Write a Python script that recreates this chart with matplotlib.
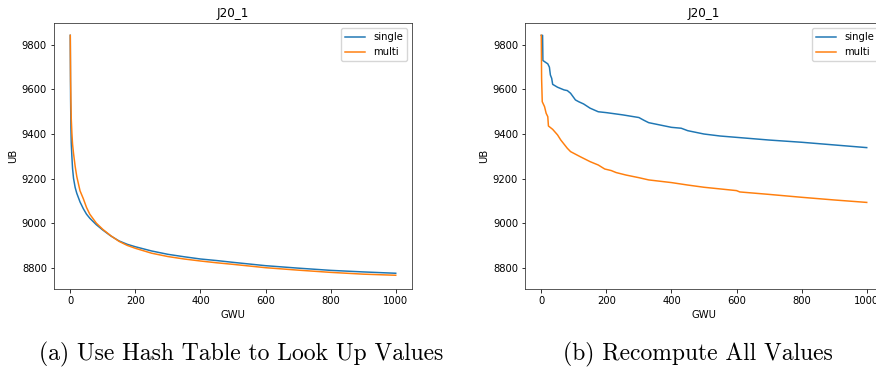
import matplotlib
matplotlib.use("Agg")
import matplotlib.pyplot as plt

# ---- data ----
title_text = "J20_1"
xlabel_text = "GWU"
ylabel_text = "UB"
caption_a = "(a) Use Hash Table to Look Up Values"
caption_b = "(b) Recompute All Values"
xticks = [0, 200, 400, 600, 800, 1000]
yticks = [8800, 9000, 9200, 9400, 9600, 9800]

# panel (a)
a_single_x = [0, 1, 2, 3, 5, 7, 10, 15, 20, 30, 40, 50, 60, 80, 100, 125, 150, 175, 200,
              250, 300, 350, 400, 450, 500, 600, 700, 800, 900, 1000]
a_single_y = [9843, 9560, 9430, 9360, 9298, 9245, 9201, 9160, 9134, 9095, 9065, 9040, 9022,
              8993, 8969, 8942, 8920, 8905, 8894, 8875, 8860, 8849, 8839, 8832, 8824, 8809,
              8798, 8788, 8781, 8775]
a_multi_x = [0, 1, 2, 3, 5, 7, 10, 15, 20, 30, 40, 50, 60, 80, 100, 125, 150, 175, 200,
             250, 300, 350, 400, 450, 500, 600, 700, 800, 900, 1000]
a_multi_y = [9843, 9640, 9540, 9470, 9403, 9355, 9313, 9255, 9209, 9145, 9110, 9070, 9040,
             9000, 8972, 8943, 8918, 8900, 8887, 8865, 8850, 8839, 8830, 8822, 8815, 8800,
             8789, 8779, 8771, 8766]

# panel (b)
b_single_x = [0, 4, 5, 10, 20, 25, 28, 32, 35, 50, 70, 80, 90, 105, 115, 130, 150, 175, 200,
              250, 300, 315, 330, 350, 400, 430, 450, 500, 550, 600, 700, 800, 900, 1000]
b_single_y = [9843, 9843, 9730, 9725, 9715, 9700, 9665, 9650, 9623, 9610, 9598, 9595, 9583,
              9553, 9545, 9535, 9516, 9500, 9496, 9486, 9474, 9462, 9451, 9445, 9430, 9426,
              9415, 9400, 9391, 9385, 9373, 9363, 9351, 9339]
b_multi_x = [0, 1, 3, 10, 15, 20, 22, 35, 50, 60, 80, 90, 120, 150, 175, 195, 215, 230,
             260, 300, 330, 400, 450, 500, 600, 610, 700, 800, 900, 1000]
b_multi_y = [9843, 9650, 9545, 9523, 9493, 9478, 9436, 9421, 9396, 9373, 9336, 9321, 9298,
             9276, 9261, 9243, 9236, 9227, 9216, 9204, 9194, 9182, 9171, 9161, 9146, 9140,
             9129, 9116, 9104, 9093]

s = 0.72
plt.rcParams.update({
    "font.size": 10 * s,
    "axes.linewidth": 0.8 * s,
    "xtick.major.size": 3.5 * s,
    "ytick.major.size": 3.5 * s,
    "xtick.major.width": 0.8 * s,
    "ytick.major.width": 0.8 * s,
    "xtick.major.pad": 3.5 * s,
    "ytick.major.pad": 3.5 * s,
    "lines.linewidth": 1.5 * s,
    "axes.edgecolor": "#333333",
})

W, H = 876, 367
fig = plt.figure(figsize=(W / 100, H / 100), dpi=100)

def add_panel(left_px, single_x, single_y, multi_x, multi_y):
    ax = fig.add_axes([left_px / W, 1 - 289.3 / H, 358 / W, 266 / H])
    ax.plot(single_x, single_y, color="#1f77b4", label="single")
    ax.plot(multi_x, multi_y, color="#ff7f0e", label="multi")
    ax.set_xlim(-50, 1050)
    ax.set_ylim(8703, 9897)
    ax.set_xticks(xticks)
    ax.set_yticks(yticks)
    ax.set_title(title_text, fontsize=12 * s, pad=6 * s)
    ax.set_xlabel(xlabel_text, labelpad=4 * s)
    ax.set_ylabel(ylabel_text, labelpad=4 * s)
    ax.legend(loc="upper right", fontsize=10 * s, borderaxespad=0.5,
              handlelength=2.0, framealpha=0.8)
    return ax

add_panel(54, a_single_x, a_single_y, a_multi_x, a_multi_y)
add_panel(525, b_single_x, b_single_y, b_multi_x, b_multi_y)

fig.text(241 / W, 1 - 354 / H, caption_a, ha="center", va="center",
         family=["cmr10", "DejaVu Serif"], fontsize=17)
fig.text(698 / W, 1 - 354 / H, caption_b, ha="center", va="center",
         family=["cmr10", "DejaVu Serif"], fontsize=17)

fig.savefig("out.png", dpi=100)
